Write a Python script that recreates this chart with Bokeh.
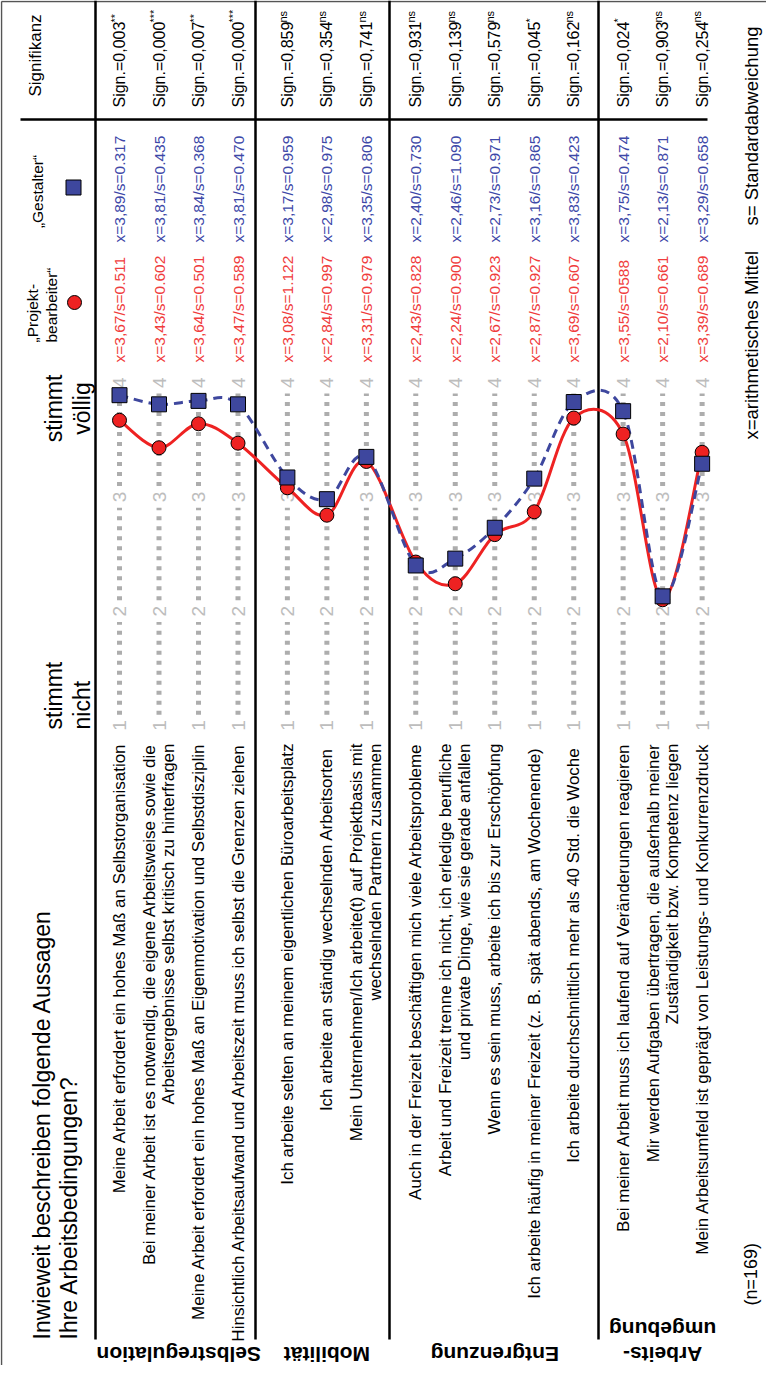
import numpy as np
from bokeh.plotting import figure
from bokeh.models import Range1d
from bokeh.core.properties import value
from bokeh.embed import file_html
from bokeh.resources import INLINE

# ---------------- data ----------------
statements = [
    ["Meine Arbeit erfordert ein hohes Maß an Selbstorganisation"],
    ["Bei meiner Arbeit ist es notwendig, die eigene Arbeitsweise sowie die",
     "Arbeitsergebnisse selbst kritisch zu hinterfragen"],
    ["Meine Arbeit erfordert ein hohes Maß an Eigenmotivation und Selbstdisziplin"],
    ["Hinsichtlich Arbeitsaufwand und Arbeitszeit muss ich selbst die Grenzen ziehen"],
    ["Ich arbeite selten an meinem eigentlichen Büroarbeitsplatz"],
    ["Ich arbeite an  ständig wechselnden Arbeitsorten"],
    ["Mein Unternehmen/Ich arbeite(t) auf Projektbasis mit",
     "wechselnden Partnern zusammen"],
    ["Auch in der Freizeit beschäftigen mich viele Arbeitsprobleme"],
    ["Arbeit und Freizeit trenne ich nicht, ich erledige berufliche",
     "und private Dinge, wie sie gerade anfallen"],
    ["Wenn es sein muss, arbeite ich bis zur Erschöpfung"],
    ["Ich arbeite häufig in meiner Freizeit (z. B.  spät abends, am Wochenende)"],
    ["Ich arbeite durchschnittlich mehr als 40 Std.  die Woche"],
    ["Bei meiner Arbeit muss ich laufend auf Veränderungen reagieren"],
    ["Mir werden Aufgaben übertragen, die außerhalb meiner",
     "Zuständigkeit bzw. Kompetenz liegen"],
    ["Mein Arbeitsumfeld ist geprägt von Leistungs- und Konkurrenzdruck"],
]
group_of_item = [0, 0, 0, 0, 1, 1, 1, 2, 2, 2, 2, 2, 3, 3, 3]
group_names = [["Selbstregulation"], ["Mobilität"], ["Entgrenzung"], ["Arbeits-", "umgebung"]]

mean_pb = [3.67, 3.43, 3.64, 3.47, 3.08, 2.84, 3.31, 2.43, 2.24, 2.67, 2.87, 3.69, 3.55, 2.10, 3.39]
sd_pb = ["0.511", "0.602", "0.501", "0.589", "1.122", "0.997", "0.979", "0.828", "0.900",
         "0.923", "0.927", "0.607", "0588", "0.661", "0.689"]
mean_ge = [3.89, 3.81, 3.84, 3.81, 3.17, 2.98, 3.35, 2.40, 2.46, 2.73, 3.16, 3.83, 3.75, 2.13, 3.29]
sd_ge = ["0.317", "0.435", "0.368", "0.470", "0.959", "0.975", "0.806", "0.730", "1.090",
         "0.971", "0.865", "0.423", "0.474", "0.871", "0.658"]
sig_p = ["0,003", "0,000", "0,007", "0,000", "0,859", "0,354", "0,741", "0,931", "0,139",
         "0,579", "0,045", "0,162", "0,024", "0,903", "0,254"]
sig_mark = ["**", "***", "**", "***", "ns", "ns", "ns", "ns", "ns", "ns", "*", "ns", "*", "ns", "ns"]
scale_ticks = [1, 2, 3, 4]
scale_tick_labels = ["1", "2", "3", "4"]

# ---------------- layout (page pixels) ----------------
W, H = 766, 1365
PX0, PXS = 127.0, 39.5     # page x of first item, px per slot
PY1, PYS = 733.0, 114.3    # page y of scale value 1, px per scale unit
GROUP_GAP = 0.25


def vx(px):
    return (px - PX0) / PXS


def vy(py):
    return 1.0 + (PY1 - py) / PYS


slots = np.array([i + GROUP_GAP * g for i, g in enumerate(group_of_item)])

p = figure(width=W, height=H,
           x_range=Range1d(vx(8), vx(8 + W)), y_range=Range1d(vy(8 + H), vy(8)),
           output_backend="svg", toolbar_location=None,
           x_axis_location=None, y_axis_location=None, min_border=0)
p.grid.visible = False
p.outline_line_color = None
p.background_fill_color = "white"
p.border_fill_color = "white"

FONT = value("Liberation Sans")
UP = np.pi / 2

RED = "#ee2222"
RED_TXT = "#f03c3c"
BLUE = "#3e479e"
BLUE_TXT = "#3d48a8"


def T(x, y, text, size, color="black", angle=UP, align="center", baseline="middle", style="normal"):
    p.text(x=[x], y=[y], text=[text], angle=angle, text_align=align, text_baseline=baseline,
           text_font=FONT, text_font_size=value(size), text_color=color, text_font_style=style)


# ---------------- frame lines ----------------
p.segment(x0=[vx(9)], y0=[vy(9)], x1=[vx(8 + W)], y1=[vy(9)], line_color="#555555", line_width=1.5)
p.segment(x0=[vx(9)], y0=[vy(9)], x1=[vx(9)], y1=[vy(8 + H)], line_color="#555555", line_width=1.5)
for sx in [103, 263, 397, 606]:
    p.segment(x0=[vx(sx)], y0=[vy(1347)], x1=[vx(sx)], y1=[vy(8)], line_color="black", line_width=2.5)
p.segment(x0=[vx(28)], y0=[vy(127)], x1=[vx(715)], y1=[vy(127)], line_color="black", line_width=2.5)

# ---------------- dotted scale lines + digits ----------------
gap = 0.095
x0s, y0s, x1s, y1s = [], [], [], []
for s in slots:
    for k in scale_ticks[:-1]:
        x0s.append(s); y0s.append(k + gap); x1s.append(s); y1s.append(k + 1 - gap)
p.segment(x0=x0s, y0=y0s, x1=x1s, y1=y1s, line_color="#adadad", line_width=5,
          line_dash="4 6", line_cap="butt")
tx = np.repeat(slots, len(scale_ticks))
ty = np.tile(scale_ticks, len(slots))
tt = list(scale_tick_labels) * len(slots)
p.text(x=tx, y=ty, text=tt, angle=UP, text_align="center", text_baseline="middle",
       text_font=FONT, text_font_size=value("19px"), text_color="#bdbdbd")

# ---------------- smooth curves ----------------
def bezier_parts(xs, ys):
    P = np.column_stack([xs, ys]).astype(float)
    n = len(P)
    out = {k: [] for k in ["x0", "y0", "x1", "y1", "cx0", "cy0", "cx1", "cy1"]}
    for i in range(n - 1):
        p0 = P[max(i - 1, 0)]; p1 = P[i]; p2 = P[i + 1]; p3 = P[min(i + 2, n - 1)]
        c1 = p1 + (p2 - p0) / 6.0
        c2 = p2 - (p3 - p1) / 6.0
        out["x0"].append(p1[0]); out["y0"].append(p1[1])
        out["x1"].append(p2[0]); out["y1"].append(p2[1])
        out["cx0"].append(c1[0]); out["cy0"].append(c1[1])
        out["cx1"].append(c2[0]); out["cy1"].append(c2[1])
    return out


p.bezier(**bezier_parts(slots, mean_pb), line_color=RED, line_width=3)
p.bezier(**bezier_parts(slots, mean_ge), line_color=BLUE, line_width=3, line_dash="9 6")
p.scatter(x=slots, y=mean_pb, marker="circle", size=14, fill_color=RED, line_color="black", line_width=1)
p.scatter(x=slots, y=mean_ge, marker="square", size=15, fill_color=BLUE, line_color="black", line_width=1)

# ---------------- statement texts ----------------
for s, lines in zip(slots, statements):
    if len(lines) == 1:
        T(s, vy(751), lines[0], "17px", align="right")
    else:
        T(s - 0.24, vy(751), lines[0], "17px", align="right")
        T(s + 0.24, vy(751), lines[1], "17px", align="right")

# ---------------- statistic columns ----------------
for i, s in enumerate(slots):
    T(s, vy(370), "x=%s/s=%s" % (("%.2f" % mean_pb[i]).replace(".", ","), sd_pb[i]), "15.5px",
      color=RED_TXT, align="left")
    T(s, vy(250), "x=%s/s=%s" % (("%.2f" % mean_ge[i]).replace(".", ","), sd_ge[i]), "15.5px",
      color=BLUE_TXT, align="left")
    T(s, vy(115), "Sign.=%s" % sig_p[i], "16px", align="left")
    T(s - 0.12, vy(30), sig_mark[i], "11px", align="left")

# ---------------- headers / legend ----------------
T(vx(43), vy(63), "Signifikanz", "17px")
T(vx(40), vy(350), "„Projekt-", "15.5px", align="left")
T(vx(59), vy(350), "bearbeiter“", "15.5px", align="left")
p.scatter(x=[vx(82)], y=[vy(310)], marker="circle", size=14, fill_color=RED, line_color="black", line_width=1)
T(vx(45), vy(199), "„Gestalter“", "15.5px")
p.scatter(x=[vx(81)], y=[vy(195)], marker="square", size=15, fill_color=BLUE, line_color="black", line_width=1)

T(vx(61), vy(416), "stimmt", "23px")
T(vx(89), vy(416), "völlig", "23px")
T(vx(61), vy(737), "stimmt", "23px", align="left")
T(vx(89), vy(737), "nicht", "23px", align="left")

T(vx(49), vy(1347), "Inwieweit beschreiben folgende Aussagen", "23px", align="left")
T(vx(76), vy(1347), "Ihre Arbeitsbedingungen?", "23px", align="left")

T(vx(759), vy(447), "x=arithmetisches Mittel", "18.5px", align="left")
T(vx(759), vy(233), "s= Standardabweichung", "18.5px", align="left")
T(vx(758), vy(1313), "(n=169)", "18px", align="left")

# ---------------- group labels (upside down) ----------------
for g, names in enumerate(group_names):
    members = slots[np.array(group_of_item) == g]
    cx = (members.min() + members.max()) / 2.0
    if len(names) == 1:
        T(cx, vy(1362), names[0], "21px", angle=np.pi, style="bold")
    else:
        T(cx, vy(1362), names[0], "21px", angle=np.pi, style="bold")
        T(cx, vy(1337), names[1], "21px", angle=np.pi, style="bold")

open("out.html", "w").write(file_html(p, INLINE))
